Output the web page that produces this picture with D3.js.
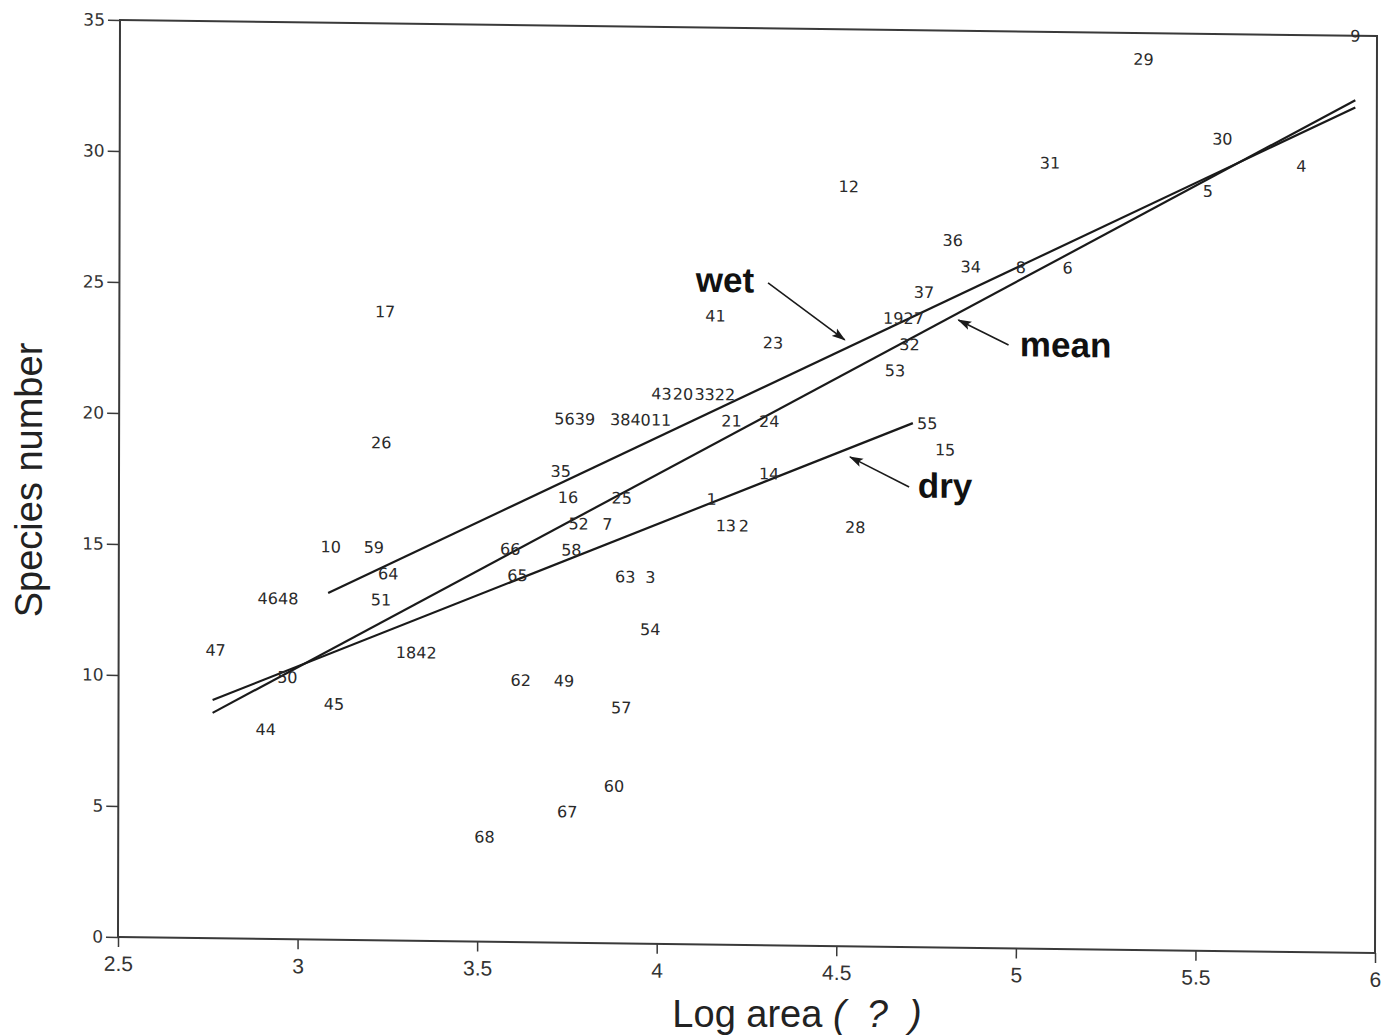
<!DOCTYPE html>
<html>
<head>
<meta charset="utf-8">
<script src="https://cdn.jsdelivr.net/npm/d3@7"></script>
<style>
  html, body { margin: 0; padding: 0; background: #ffffff; }
  svg { display: block; }
</style>
</head>
<body>
<svg id="chart" width="1393" height="1036"></svg>
<script>
// ---------------- DATA ----------------
const xTickValues = [2.5, 3, 3.5, 4, 4.5, 5, 5.5, 6];
const xTickLabels = ["2.5", "3", "3.5", "4", "4.5", "5", "5.5", "6"];
const yTickValues = [0, 5, 10, 15, 20, 25, 30, 35];
const yTickLabels = ["0", "5", "10", "15", "20", "25", "30", "35"];

// site number labels and their positions (log area, species number)
const siteLabels = ["17","26","10","59","64","46","48","51","47","18","42","50","45","44",
  "56","39","38","40","11","43","20","33","22","35","16","25","52","7","66","58","65","63","3",
  "54","62","49","57","60","67","68","41","23","21","24","14","1","13","2","28","37","19","27",
  "32","53","55","15","12","36","34","8","6","29","30","31","5","4","9"];
const siteLogArea = [3.24,3.23,3.09,3.21,3.25,2.915,2.972,3.23,2.77,3.30,3.357,2.97,3.10,2.91,
  3.74,3.797,3.895,3.952,4.009,4.01,4.07,4.13,4.187,3.73,3.75,3.90,3.78,3.86,3.59,3.76,3.61,3.91,3.98,
  3.98,3.62,3.74,3.90,3.88,3.75,3.52,4.16,4.32,4.205,4.31,4.31,4.15,4.19,4.24,4.55,4.74,4.655,4.712,
  4.70,4.66,4.75,4.80,4.53,4.82,4.87,5.01,5.14,5.35,5.57,5.09,5.53,5.79,5.94];
const siteSpecies = [24,19,15,15,14,13,13,13,11,11,11,10,9,8,
  20,20,20,20,20,21,21,21,21,18,17,17,16,16,15,15,14,14,14,
  12,10,10,9,6,5,4,24,23,20,20,18,17,16,16,16,25,24,24,
  23,22,20,19,29,27,26,26,26,34,31,30,29,30,35];

// regression lines: wet, mean, dry (endpoints)
const lineNames = ["wet", "mean", "dry"];
const lineX1 = [3.083, 2.762, 2.762];
const lineY1 = [13.23, 8.6, 9.09];
const lineX2 = [5.94, 5.94, 4.71];
const lineY2 = [32.26, 32.54, 20.0];

// annotation labels and arrows
const annoText = ["wet", "mean", "dry"];
const annoTextX = [4.186, 5.135, 4.80];
const annoTextY = [24.91, 22.6, 17.16];
const arrowFromX = [4.306, 4.976, 4.70];
const arrowFromY = [25.28, 23.03, 17.56];
const arrowToX = [4.52, 4.836, 4.535];
const arrowToY = [23.14, 23.96, 18.68];

const xTitle = "Log area ";
const xTitleExtra = "(  ?  )";
const yTitle = "Species number";

// ---------------- CHART ----------------
const svg = d3.select("#chart");
svg.append("rect").attr("width", 1393).attr("height", 1036).attr("fill", "#ffffff");

const W = 1255, H = 917;
// slight skew to follow the scanned figure
const g = svg.append("g").attr("transform", "matrix(1.0016,0.01275,-0.00218,1,120,20)");

const x = d3.scaleLinear().domain([2.5, 6]).range([0, W]);
const y = d3.scaleLinear().domain([0, 35]).range([H, 0]);

const axisColor = "#3a3a3a";
const numFont = "'DejaVu Sans', 'Liberation Sans', sans-serif";

// X axis
const xAxis = g.append("g").attr("transform", `translate(0,${H})`)
  .call(d3.axisBottom(x).tickValues(xTickValues)
    .tickFormat((d, i) => xTickLabels[i]).tickSize(10).tickSizeOuter(0).tickPadding(9));
xAxis.select(".domain").remove();
xAxis.selectAll(".tick line").attr("stroke", axisColor).attr("stroke-width", 1.5);
xAxis.selectAll(".tick text")
  .attr("font-family", "'Liberation Sans Narrow', 'Liberation Sans', sans-serif")
  .attr("font-size", 21).attr("fill", "#333");

// Y axis
const yAxis = g.append("g")
  .call(d3.axisLeft(y).tickValues(yTickValues)
    .tickFormat((d, i) => yTickLabels[i]).tickSize(12).tickSizeOuter(0).tickPadding(3));
yAxis.select(".domain").remove();
yAxis.selectAll(".tick line").attr("stroke", axisColor).attr("stroke-width", 1.5);
yAxis.selectAll(".tick text")
  .attr("font-family", numFont).attr("font-size", 17).attr("fill", "#333");

// Frame
g.append("rect").attr("x", 0).attr("y", 0).attr("width", W).attr("height", H)
  .attr("fill", "none").attr("stroke", axisColor).attr("stroke-width", 2);

// Regression lines
g.selectAll("line.reg").data(lineNames).enter().append("line")
  .attr("class", "reg")
  .attr("x1", (d, i) => x(lineX1[i])).attr("y1", (d, i) => y(lineY1[i]))
  .attr("x2", (d, i) => x(lineX2[i])).attr("y2", (d, i) => y(lineY2[i]))
  .attr("stroke", "#1a1a1a").attr("stroke-width", 2.2);

// Site labels
g.selectAll("text.site").data(siteLabels).enter().append("text")
  .attr("class", "site")
  .attr("x", (d, i) => x(siteLogArea[i]))
  .attr("y", (d, i) => y(siteSpecies[i]))
  .attr("dy", "0.36em")
  .attr("text-anchor", "middle")
  .attr("font-family", numFont).attr("font-size", 16)
  .attr("fill", "#2a2a2a")
  .text(d => d);

// Arrow marker
svg.append("defs").append("marker")
  .attr("id", "arrowHead").attr("viewBox", "0 -5 14 10")
  .attr("refX", 13).attr("refY", 0)
  .attr("markerWidth", 14).attr("markerHeight", 10)
  .attr("markerUnits", "userSpaceOnUse").attr("orient", "auto")
  .append("path").attr("d", "M0,-4.5L14,0L0,4.5L3,0Z").attr("fill", "#1a1a1a");

g.selectAll("line.arrow").data(annoText).enter().append("line")
  .attr("class", "arrow")
  .attr("x1", (d, i) => x(arrowFromX[i])).attr("y1", (d, i) => y(arrowFromY[i]))
  .attr("x2", (d, i) => x(arrowToX[i])).attr("y2", (d, i) => y(arrowToY[i]))
  .attr("stroke", "#1a1a1a").attr("stroke-width", 1.6)
  .attr("marker-end", "url(#arrowHead)");

g.selectAll("text.anno").data(annoText).enter().append("text")
  .attr("class", "anno")
  .attr("x", (d, i) => x(annoTextX[i])).attr("y", (d, i) => y(annoTextY[i]))
  .attr("text-anchor", "middle")
  .attr("font-family", "'Liberation Sans', Arial, sans-serif")
  .attr("font-weight", "bold").attr("font-size", 35).attr("fill", "#111")
  .text(d => d);

// Axis titles
const xt = svg.append("text")
  .attr("x", 797).attr("y", 1027).attr("text-anchor", "middle")
  .attr("font-family", "'Liberation Sans', Arial, sans-serif")
  .attr("font-size", 38).attr("fill", "#222")
  .style("white-space", "pre");
xt.append("tspan").text(xTitle);
xt.append("tspan").attr("font-style", "italic").attr("font-weight", "300").text(xTitleExtra);

svg.append("text")
  .attr("transform", "translate(42,480) rotate(-90)")
  .attr("text-anchor", "middle")
  .attr("font-family", "'Liberation Sans', Arial, sans-serif")
  .attr("font-size", 38).attr("fill", "#222")
  .text(yTitle);
</script>
</body>
</html>
